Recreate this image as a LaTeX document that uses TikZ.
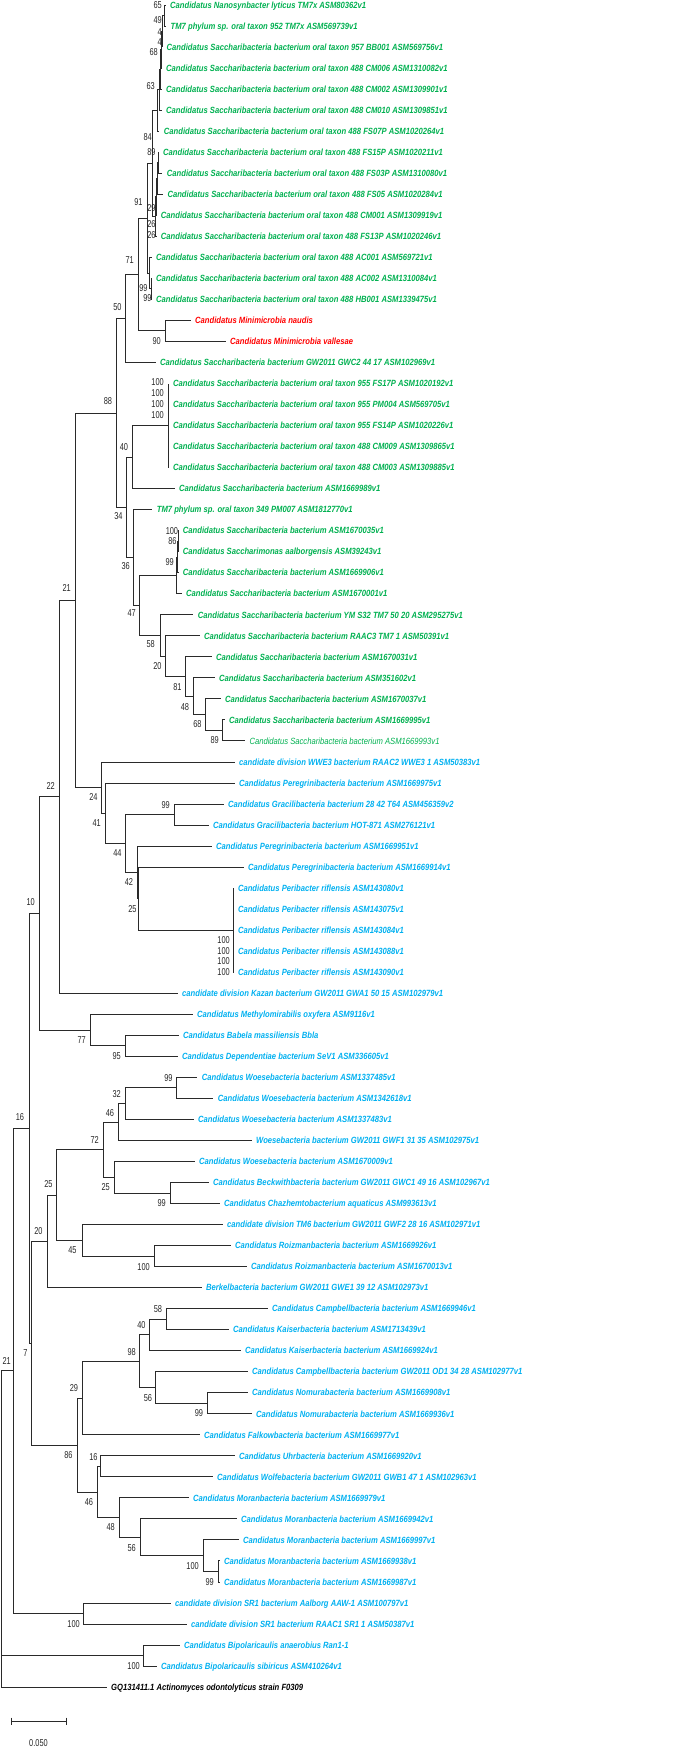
\documentclass[tikz,border=0pt]{standalone}
\usepackage{fontspec}
\setmainfont{Liberation Sans}
\newfontfamily\taxfont[FakeStretch=0.85]{Liberation Sans}
\newfontfamily\bootfont[FakeStretch=0.74]{Liberation Sans}
\usepackage{xcolor}
\usepackage{tikz}
\definecolor{sacc}{HTML}{00B050}
\definecolor{cpr}{HTML}{00B0F0}
\definecolor{mini}{HTML}{FF0000}
\definecolor{edge}{HTML}{2A2A2A}

\begin{document}
\begin{tikzpicture}[
    x=1pt, y=-1pt,
    taxon/.style={anchor=west, inner xsep=4.5pt, inner ysep=0pt,
                  text height=6.4pt, text depth=0pt,
                  font=\taxfont\fontsize{9}{10}\selectfont\bfseries\itshape},
    thin/.style={font=\taxfont\fontsize{9}{10}\selectfont\itshape},
    boot/.style={anchor=east, inner sep=0pt, text height=7.2pt, text depth=0pt,
                 font=\bootfont\fontsize{10}{11}\selectfont, text=black!85},
    branch/.style={draw=edge, line width=0.9pt},
]
\useasboundingbox (0,0) rectangle (685,1749);

\node[taxon,text=sacc] (l1) at (165.5,5.0) {Candidatus Nanosynbacter lyticus TM7x ASM80362v1};
\node[taxon,text=sacc] (l2) at (166,26.0) {TM7 phylum sp. oral taxon 952 TM7x ASM569739v1};
\node[taxon,text=sacc] (l3) at (162,47.1) {Candidatus Saccharibacteria bacterium oral taxon 957 BB001 ASM569756v1};
\node[taxon,text=sacc] (l4) at (161.5,68.1) {Candidatus Saccharibacteria bacterium oral taxon 488 CM006 ASM1310082v1};
\node[taxon,text=sacc] (l5) at (161.5,89.1) {Candidatus Saccharibacteria bacterium oral taxon 488 CM002 ASM1309901v1};
\node[taxon,text=sacc] (l6) at (161.5,110.1) {Candidatus Saccharibacteria bacterium oral taxon 488 CM010 ASM1309851v1};
\node[taxon,text=sacc] (l7) at (159.2,131.2) {Candidatus Saccharibacteria bacterium oral taxon 488 FS07P ASM1020264v1};
\node[taxon,text=sacc] (l8) at (158.5,152.2) {Candidatus Saccharibacteria bacterium oral taxon 488 FS15P ASM1020211v1};
\node[taxon,text=sacc] (l9) at (162.2,173.2) {Candidatus Saccharibacteria bacterium oral taxon 488 FS03P ASM1310080v1};
\node[taxon,text=sacc] (l10) at (162.8,194.2) {Candidatus Saccharibacteria bacterium oral taxon 488 FS05 ASM1020284v1};
\node[taxon,text=sacc] (l11) at (156.2,215.3) {Candidatus Saccharibacteria bacterium oral taxon 488 CM001 ASM1309919v1};
\node[taxon,text=sacc] (l12) at (156.2,236.3) {Candidatus Saccharibacteria bacterium oral taxon 488 FS13P ASM1020246v1};
\node[taxon,text=sacc] (l13) at (151.5,257.3) {Candidatus Saccharibacteria bacterium oral taxon 488 AC001 ASM569721v1};
\node[taxon,text=sacc] (l14) at (151.5,278.3) {Candidatus Saccharibacteria bacterium oral taxon 488 AC002 ASM1310084v1};
\node[taxon,text=sacc] (l15) at (151.5,299.4) {Candidatus Saccharibacteria bacterium oral taxon 488 HB001 ASM1339475v1};
\node[taxon,text=mini] (l16) at (190.5,320.4) {Candidatus Minimicrobia naudis};
\node[taxon,text=mini] (l17) at (225.5,341.4) {Candidatus Minimicrobia vallesae};
\node[taxon,text=sacc] (l18) at (155.5,362.4) {Candidatus Saccharibacteria bacterium GW2011 GWC2 44 17 ASM102969v1};
\node[taxon,text=sacc] (l19) at (168.5,383.5) {Candidatus Saccharibacteria bacterium oral taxon 955 FS17P ASM1020192v1};
\node[taxon,text=sacc] (l20) at (168.5,404.5) {Candidatus Saccharibacteria bacterium oral taxon 955 PM004 ASM569705v1};
\node[taxon,text=sacc] (l21) at (168.5,425.5) {Candidatus Saccharibacteria bacterium oral taxon 955 FS14P ASM1020226v1};
\node[taxon,text=sacc] (l22) at (168.5,446.6) {Candidatus Saccharibacteria bacterium oral taxon 488 CM009 ASM1309865v1};
\node[taxon,text=sacc] (l23) at (168.5,467.6) {Candidatus Saccharibacteria bacterium oral taxon 488 CM003 ASM1309885v1};
\node[taxon,text=sacc] (l24) at (174.5,488.6) {Candidatus Saccharibacteria bacterium ASM1669989v1};
\node[taxon,text=sacc] (l25) at (152.2,509.6) {TM7 phylum sp. oral taxon 349 PM007 ASM1812770v1};
\node[taxon,text=sacc] (l26) at (178.2,530.7) {Candidatus Saccharibacteria bacterium ASM1670035v1};
\node[taxon,text=sacc] (l27) at (178.2,551.7) {Candidatus Saccharimonas aalborgensis ASM39243v1};
\node[taxon,text=sacc] (l28) at (178.2,572.7) {Candidatus Saccharibacteria bacterium ASM1669906v1};
\node[taxon,text=sacc] (l29) at (181.5,593.7) {Candidatus Saccharibacteria bacterium ASM1670001v1};
\node[taxon,text=sacc] (l30) at (193.2,614.8) {Candidatus Saccharibacteria bacterium YM S32 TM7 50 20 ASM295275v1};
\node[taxon,text=sacc] (l31) at (199.5,635.8) {Candidatus Saccharibacteria bacterium RAAC3 TM7 1 ASM50391v1};
\node[taxon,text=sacc] (l32) at (211.5,656.8) {Candidatus Saccharibacteria bacterium ASM1670031v1};
\node[taxon,text=sacc] (l33) at (214.5,677.8) {Candidatus Saccharibacteria bacterium ASM351602v1};
\node[taxon,text=sacc] (l34) at (220.5,698.9) {Candidatus Saccharibacteria bacterium ASM1670037v1};
\node[taxon,text=sacc] (l35) at (224.5,719.9) {Candidatus Saccharibacteria bacterium ASM1669995v1};
\node[taxon,thin,text=sacc] (l36) at (244.8,740.9) {Candidatus Saccharibacteria bacterium ASM1669993v1};
\node[taxon,text=cpr] (l37) at (234.5,762.0) {candidate division WWE3 bacterium RAAC2 WWE3 1 ASM50383v1};
\node[taxon,text=cpr] (l38) at (234.5,783.0) {Candidatus Peregrinibacteria bacterium ASM1669975v1};
\node[taxon,text=cpr] (l39) at (223.5,804.0) {Candidatus Gracilibacteria bacterium 28 42 T64 ASM456359v2};
\node[taxon,text=cpr] (l40) at (208.5,825.0) {Candidatus Gracilibacteria bacterium HOT-871 ASM276121v1};
\node[taxon,text=cpr] (l41) at (211.5,846.1) {Candidatus Peregrinibacteria bacterium ASM1669951v1};
\node[taxon,text=cpr] (l42) at (243.5,867.1) {Candidatus Peregrinibacteria bacterium ASM1669914v1};
\node[taxon,text=cpr] (l43) at (233.3,888.1) {Candidatus Peribacter riflensis ASM143080v1};
\node[taxon,text=cpr] (l44) at (233.3,909.1) {Candidatus Peribacter riflensis ASM143075v1};
\node[taxon,text=cpr] (l45) at (233.3,930.2) {Candidatus Peribacter riflensis ASM143084v1};
\node[taxon,text=cpr] (l46) at (233.3,951.2) {Candidatus Peribacter riflensis ASM143088v1};
\node[taxon,text=cpr] (l47) at (233.3,972.2) {Candidatus Peribacter riflensis ASM143090v1};
\node[taxon,text=cpr] (l48) at (177.5,993.2) {candidate division Kazan bacterium GW2011 GWA1 50 15 ASM102979v1};
\node[taxon,text=cpr] (l49) at (192.5,1014.3) {Candidatus Methylomirabilis oxyfera ASM9116v1};
\node[taxon,text=cpr] (l50) at (178.5,1035.3) {Candidatus Babela massiliensis Bbla};
\node[taxon,text=cpr] (l51) at (177.5,1056.3) {Candidatus Dependentiae bacterium SeV1 ASM336605v1};
\node[taxon,text=cpr] (l52) at (197.2,1077.3) {Candidatus Woesebacteria bacterium ASM1337485v1};
\node[taxon,text=cpr] (l53) at (213.2,1098.4) {Candidatus Woesebacteria bacterium ASM1342618v1};
\node[taxon,text=cpr] (l54) at (193.5,1119.4) {Candidatus Woesebacteria bacterium ASM1337483v1};
\node[taxon,text=cpr] (l55) at (251.5,1140.4) {Woesebacteria bacterium GW2011 GWF1 31 35 ASM102975v1};
\node[taxon,text=cpr] (l56) at (194.5,1161.5) {Candidatus Woesebacteria bacterium ASM1670009v1};
\node[taxon,text=cpr] (l57) at (208.5,1182.5) {Candidatus Beckwithbacteria bacterium GW2011 GWC1 49 16 ASM102967v1};
\node[taxon,text=cpr] (l58) at (219.5,1203.5) {Candidatus Chazhemtobacterium aquaticus ASM993613v1};
\node[taxon,text=cpr] (l59) at (222.5,1224.5) {candidate division TM6 bacterium GW2011 GWF2 28 16 ASM102971v1};
\node[taxon,text=cpr] (l60) at (230.5,1245.6) {Candidatus Roizmanbacteria bacterium ASM1669926v1};
\node[taxon,text=cpr] (l61) at (246.5,1266.6) {Candidatus Roizmanbacteria bacterium ASM1670013v1};
\node[taxon,text=cpr] (l62) at (201.5,1287.6) {Berkelbacteria bacterium GW2011 GWE1 39 12 ASM102973v1};
\node[taxon,text=cpr] (l63) at (267.5,1308.6) {Candidatus Campbellbacteria bacterium ASM1669946v1};
\node[taxon,text=cpr] (l64) at (228.5,1329.7) {Candidatus Kaiserbacteria bacterium ASM1713439v1};
\node[taxon,text=cpr] (l65) at (240.5,1350.7) {Candidatus Kaiserbacteria bacterium ASM1669924v1};
\node[taxon,text=cpr] (l66) at (247.5,1371.7) {Candidatus Campbellbacteria bacterium GW2011 OD1 34 28 ASM102977v1};
\node[taxon,text=cpr] (l67) at (247.5,1392.7) {Candidatus Nomurabacteria bacterium ASM1669908v1};
\node[taxon,text=cpr] (l68) at (251.5,1413.8) {Candidatus Nomurabacteria bacterium ASM1669936v1};
\node[taxon,text=cpr] (l69) at (199.5,1434.8) {Candidatus Falkowbacteria bacterium ASM1669977v1};
\node[taxon,text=cpr] (l70) at (234.5,1455.8) {Candidatus Uhrbacteria bacterium ASM1669920v1};
\node[taxon,text=cpr] (l71) at (212.5,1476.8) {Candidatus Wolfebacteria bacterium GW2011 GWB1 47 1 ASM102963v1};
\node[taxon,text=cpr] (l72) at (188.5,1497.9) {Candidatus Moranbacteria bacterium ASM1669979v1};
\node[taxon,text=cpr] (l73) at (236.5,1518.9) {Candidatus Moranbacteria bacterium ASM1669942v1};
\node[taxon,text=cpr] (l74) at (238.5,1539.9) {Candidatus Moranbacteria bacterium ASM1669997v1};
\node[taxon,text=cpr] (l75) at (219.5,1560.9) {Candidatus Moranbacteria bacterium ASM1669938v1};
\node[taxon,text=cpr] (l76) at (219.5,1582.0) {Candidatus Moranbacteria bacterium ASM1669987v1};
\node[taxon,text=cpr] (l77) at (170.5,1603.0) {candidate division SR1 bacterium Aalborg AAW-1 ASM100797v1};
\node[taxon,text=cpr] (l78) at (186.5,1624.0) {candidate division SR1 bacterium RAAC1 SR1 1 ASM50387v1};
\node[taxon,text=cpr] (l79) at (179.5,1645.0) {Candidatus Bipolaricaulis anaerobius Ran1-1};
\node[taxon,text=cpr] (l80) at (156.5,1666.1) {Candidatus Bipolaricaulis sibiricus ASM410264v1};
\node[taxon,text=black] (l81) at (106.5,1687.1) {GQ131411.1 Actinomyces odontolyticus strain F0309};

\coordinate (n65) at (164,15.5);
\coordinate (n49) at (162,31.3);
\coordinate (n4a) at (161,49.7);
\coordinate (n4b) at (160.5,69.4);
\coordinate (n68) at (159.5,89.8);
\coordinate (n63) at (157,110.5);
\coordinate (n89) at (158,162.7);
\coordinate (n29) at (157,178.5);
\coordinate (n26a) at (156,196.9);
\coordinate (n26b) at (155.5,216.6);
\coordinate (n84) at (152.5,163.6);
\coordinate (n99g) at (151,288.9);
\coordinate (n99f) at (149.5,273.1);
\coordinate (n91) at (147,218.4);
\coordinate (n90) at (165.7,330.9);
\coordinate (n71) at (138,274.7);
\coordinate (n50) at (125,318.6);
\coordinate (n955) at (168.5,425.5);
\coordinate (n40) at (132.7,457);
\coordinate (n100c) at (178,541.2);
\coordinate (n86c) at (177.7,557);
\coordinate (n99h) at (176.7,575.4);
\coordinate (n89b) at (222.3,730.4);
\coordinate (n68b) at (205.7,714.7);
\coordinate (n48) at (193.3,696.2);
\coordinate (n81) at (185.7,676.5);
\coordinate (n20) at (165,656.2);
\coordinate (n58) at (160,635.5);
\coordinate (n47) at (139.3,605.4);
\coordinate (n36) at (133.3,557.5);
\coordinate (n34) at (126.7,507.3);
\coordinate (n88) at (116,413);
\coordinate (nPeri) at (233,930.2);
\coordinate (n25c) at (138.5,898.7);
\coordinate (n42) at (137,872.4);
\coordinate (n99e) at (174,814.5);
\coordinate (n44) at (125,843.5);
\coordinate (n41) at (105,813.3);
\coordinate (n24) at (101,787.6);
\coordinate (n21) at (75,600.3);
\coordinate (n22) at (59,796.7);
\coordinate (n95) at (125,1045.8);
\coordinate (n77) at (90,1030);
\coordinate (n10) at (39,913.4);
\coordinate (n99i) at (176.7,1087.9);
\coordinate (n32) at (125,1103.6);
\coordinate (n46) at (118,1122);
\coordinate (n99b) at (170,1193);
\coordinate (n25b) at (114,1177.2);
\coordinate (n72) at (103,1149.6);
\coordinate (n100d) at (154,1256.1);
\coordinate (n45) at (82,1240.3);
\coordinate (n25d) at (56,1195);
\coordinate (n20b) at (47,1241.3);
\coordinate (n58b) at (166,1319.2);
\coordinate (n40b) at (149,1334.9);
\coordinate (n99c) at (207,1403.3);
\coordinate (n56) at (155.7,1387.5);
\coordinate (n98) at (139,1361.2);
\coordinate (n29b) at (82,1398);
\coordinate (n16) at (100.7,1466.3);
\coordinate (n99d) at (218.3,1571.5);
\coordinate (n100b) at (203.3,1555.7);
\coordinate (n56b) at (140,1537.3);
\coordinate (n48b) at (119,1517.6);
\coordinate (n46b) at (97,1492);
\coordinate (n86b) at (77,1445);
\coordinate (n7) at (31,1343.2);
\coordinate (nB16) at (29,1128.3);
\coordinate (nSR1) at (83,1613.5);
\coordinate (nA) at (13,1370.9);
\coordinate (nBip) at (143,1655.6);
\coordinate (root) at (1,1529);

\draw[branch] (n65) |- (l1.west) (n65) |- (l2.west);
\draw[branch] (n49) |- (n65) (n49) |- (l3.west);
\draw[branch] (n4a) |- (n49) (n4a) |- (l4.west);
\draw[branch] (n4b) |- (n4a) (n4b) |- (l5.west);
\draw[branch] (n68) |- (n4b) (n68) |- (l6.west);
\draw[branch] (n63) |- (n68) (n63) |- (l7.west);
\draw[branch] (n89) |- (l8.west) (n89) |- (l9.west);
\draw[branch] (n29) |- (n89) (n29) |- (l10.west);
\draw[branch] (n26a) |- (n29) (n26a) |- (l11.west);
\draw[branch] (n26b) |- (n26a) (n26b) |- (l12.west);
\draw[branch] (n84) |- (n63) (n84) |- (n26b);
\draw[branch] (n99g) |- (l14.west) (n99g) |- (l15.west);
\draw[branch] (n99f) |- (l13.west) (n99f) |- (n99g);
\draw[branch] (n91) |- (n84) (n91) |- (n99f);
\draw[branch] (n90) |- (l16.west) (n90) |- (l17.west);
\draw[branch] (n71) |- (n91) (n71) |- (n90);
\draw[branch] (n50) |- (n71) (n50) |- (l18.west);
\draw[branch] (n955) |- (l19.west) (n955) |- (l20.west) (n955) |- (l21.west)
              (n955) |- (l22.west) (n955) |- (l23.west);
\draw[branch] (n40) |- (n955) (n40) |- (l24.west);
\draw[branch] (n100c) |- (l26.west) (n100c) |- (l27.west);
\draw[branch] (n86c) |- (n100c) (n86c) |- (l28.west);
\draw[branch] (n99h) |- (n86c) (n99h) |- (l29.west);
\draw[branch] (n89b) |- (l35.west) (n89b) |- (l36.west);
\draw[branch] (n68b) |- (l34.west) (n68b) |- (n89b);
\draw[branch] (n48) |- (l33.west) (n48) |- (n68b);
\draw[branch] (n81) |- (l32.west) (n81) |- (n48);
\draw[branch] (n20) |- (l31.west) (n20) |- (n81);
\draw[branch] (n58) |- (l30.west) (n58) |- (n20);
\draw[branch] (n47) |- (n99h) (n47) |- (n58);
\draw[branch] (n36) |- (l25.west) (n36) |- (n47);
\draw[branch] (n34) |- (n40) (n34) |- (n36);
\draw[branch] (n88) |- (n50) (n88) |- (n34);
\draw[branch] (nPeri) |- (l43.west) (nPeri) |- (l44.west) (nPeri) |- (l45.west)
              (nPeri) |- (l46.west) (nPeri) |- (l47.west);
\draw[branch] (n25c) |- (l42.west) (n25c) |- (nPeri);
\draw[branch] (n42) |- (l41.west) (n42) |- (n25c);
\draw[branch] (n99e) |- (l39.west) (n99e) |- (l40.west);
\draw[branch] (n44) |- (n99e) (n44) |- (n42);
\draw[branch] (n41) |- (l38.west) (n41) |- (n44);
\draw[branch] (n24) |- (l37.west) (n24) |- (n41);
\draw[branch] (n21) |- (n88) (n21) |- (n24);
\draw[branch] (n22) |- (n21) (n22) |- (l48.west);
\draw[branch] (n95) |- (l50.west) (n95) |- (l51.west);
\draw[branch] (n77) |- (l49.west) (n77) |- (n95);
\draw[branch] (n10) |- (n22) (n10) |- (n77);
\draw[branch] (n99i) |- (l52.west) (n99i) |- (l53.west);
\draw[branch] (n32) |- (n99i) (n32) |- (l54.west);
\draw[branch] (n46) |- (n32) (n46) |- (l55.west);
\draw[branch] (n99b) |- (l57.west) (n99b) |- (l58.west);
\draw[branch] (n25b) |- (l56.west) (n25b) |- (n99b);
\draw[branch] (n72) |- (n46) (n72) |- (n25b);
\draw[branch] (n100d) |- (l60.west) (n100d) |- (l61.west);
\draw[branch] (n45) |- (l59.west) (n45) |- (n100d);
\draw[branch] (n25d) |- (n72) (n25d) |- (n45);
\draw[branch] (n20b) |- (n25d) (n20b) |- (l62.west);
\draw[branch] (n58b) |- (l63.west) (n58b) |- (l64.west);
\draw[branch] (n40b) |- (n58b) (n40b) |- (l65.west);
\draw[branch] (n99c) |- (l67.west) (n99c) |- (l68.west);
\draw[branch] (n56) |- (l66.west) (n56) |- (n99c);
\draw[branch] (n98) |- (n40b) (n98) |- (n56);
\draw[branch] (n29b) |- (n98) (n29b) |- (l69.west);
\draw[branch] (n16) |- (l70.west) (n16) |- (l71.west);
\draw[branch] (n99d) |- (l75.west) (n99d) |- (l76.west);
\draw[branch] (n100b) |- (l74.west) (n100b) |- (n99d);
\draw[branch] (n56b) |- (l73.west) (n56b) |- (n100b);
\draw[branch] (n48b) |- (l72.west) (n48b) |- (n56b);
\draw[branch] (n46b) |- (n16) (n46b) |- (n48b);
\draw[branch] (n86b) |- (n29b) (n86b) |- (n46b);
\draw[branch] (n7) |- (n20b) (n7) |- (n86b);
\draw[branch] (nB16) |- (n10) (nB16) |- (n7);
\draw[branch] (nSR1) |- (l77.west) (nSR1) |- (l78.west);
\draw[branch] (nA) |- (nB16) (nA) |- (nSR1);
\draw[branch] (nBip) |- (l79.west) (nBip) |- (l80.west);
\draw[branch] (root) |- (nA) (root) |- (nBip) (root) |- (l81.west);

\node[boot] (b65) at (162,4.7) {65};
\node[boot] (b49) at (162,20) {49};
\node[boot] (b4a) at (162,31.7) {4};
\node[boot] (b4b) at (162,41.7) {4};
\node[boot] (b68) at (158,52.3) {68};
\node[boot] (b63) at (155,86) {63};
\node[boot] (b84) at (152,136.7) {84};
\node[boot] (b89) at (155.7,151.7) {89};
\node[boot] (b91) at (142.7,201.7) {91};
\node[boot] (b29) at (155.7,208.3) {29};
\node[boot] (b26a) at (155.7,224.3) {26};
\node[boot] (b26b) at (155.7,235) {26};
\node[boot] (b71) at (134,260) {71};
\node[boot] (b99f) at (147.7,287.7) {99};
\node[boot] (b99g) at (151.7,298.3) {99};
\node[boot] (b50) at (121.7,306.7) {50};
\node[boot] (b90) at (161,340.7) {90};
\node[boot] (b955a) at (164,381.7) {100};
\node[boot] (b955b) at (164,393.3) {100};
\node[boot] (b955c) at (164,404.3) {100};
\node[boot] (b955d) at (164,415.3) {100};
\node[boot] (b88) at (112.3,401) {88};
\node[boot] (b40) at (128.3,446.7) {40};
\node[boot] (b34) at (122.7,515.7) {34};
\node[boot] (b100c) at (178.3,530.7) {100};
\node[boot] (b86c) at (176.7,541) {86};
\node[boot] (b99h) at (174,561.7) {99};
\node[boot] (b36) at (130,566) {36};
\node[boot] (b21) at (71,588.3) {21};
\node[boot] (b47) at (136,613.3) {47};
\node[boot] (b58) at (155,644.3) {58};
\node[boot] (b20) at (161.7,666) {20};
\node[boot] (b81) at (181.7,686.7) {81};
\node[boot] (b48) at (189.3,706.7) {48};
\node[boot] (b68b) at (201.7,724) {68};
\node[boot] (b89b) at (219,740) {89};
\node[boot] (b22) at (55,786) {22};
\node[boot] (b24) at (97.7,797.3) {24};
\node[boot] (b99e) at (170,805) {99};
\node[boot] (b41) at (101,823.3) {41};
\node[boot] (b44) at (121.7,853.3) {44};
\node[boot] (b42) at (133.3,882.3) {42};
\node[boot] (b10) at (35,902.3) {10};
\node[boot] (b25c) at (136.7,909) {25};
\node[boot] (bPeria) at (230,940) {100};
\node[boot] (bPerib) at (230,950.7) {100};
\node[boot] (bPeric) at (230,960.7) {100};
\node[boot] (bPerid) at (230,971.7) {100};
\node[boot] (b77) at (86,1040) {77};
\node[boot] (b95) at (121,1055.7) {95};
\node[boot] (b99i) at (172.7,1077.7) {99};
\node[boot] (b32) at (121,1094) {32};
\node[boot] (b46) at (114.3,1112.7) {46};
\node[boot] (bB16) at (24.3,1117.3) {16};
\node[boot] (b72) at (99,1140) {72};
\node[boot] (b25d) at (52.7,1184.3) {25};
\node[boot] (b25b) at (110,1187.3) {25};
\node[boot] (b99b) at (166,1203.3) {99};
\node[boot] (b20b) at (42.7,1231) {20};
\node[boot] (b45) at (76.7,1250) {45};
\node[boot] (b100d) at (150,1266.7) {100};
\node[boot] (b58b) at (162.3,1309) {58};
\node[boot] (b40b) at (145.7,1325) {40};
\node[boot] (b98) at (136,1351.7) {98};
\node[boot] (b7) at (27.7,1352.7) {7};
\node[boot] (bA) at (11,1361) {21};
\node[boot] (b29b) at (78.3,1388.3) {29};
\node[boot] (b56) at (152.3,1397.7) {56};
\node[boot] (b99c) at (203.3,1413.3) {99};
\node[boot] (b86b) at (72.7,1455) {86};
\node[boot] (b16) at (97.7,1456.7) {16};
\node[boot] (b46b) at (93.3,1502.3) {46};
\node[boot] (b48b) at (115,1527.3) {48};
\node[boot] (b56b) at (136,1547.7) {56};
\node[boot] (b100b) at (199,1566) {100};
\node[boot] (b99d) at (214,1582.3) {99};
\node[boot] (bSR1) at (80,1624) {100};
\node[boot] (bBip) at (140,1666) {100};

\coordinate (s0) at (11,1721);
\coordinate (s1) at (66.7,1721);
\draw[branch] (s0) -- (s1);
\draw[branch] ([yshift=3.5pt]s0) -- ([yshift=-3.5pt]s0);
\draw[branch] ([yshift=3.5pt]s1) -- ([yshift=-3.5pt]s1);
\node[boot, anchor=center] (sbar) at (38.5,1743) {0.050};

\end{tikzpicture}
\end{document}
